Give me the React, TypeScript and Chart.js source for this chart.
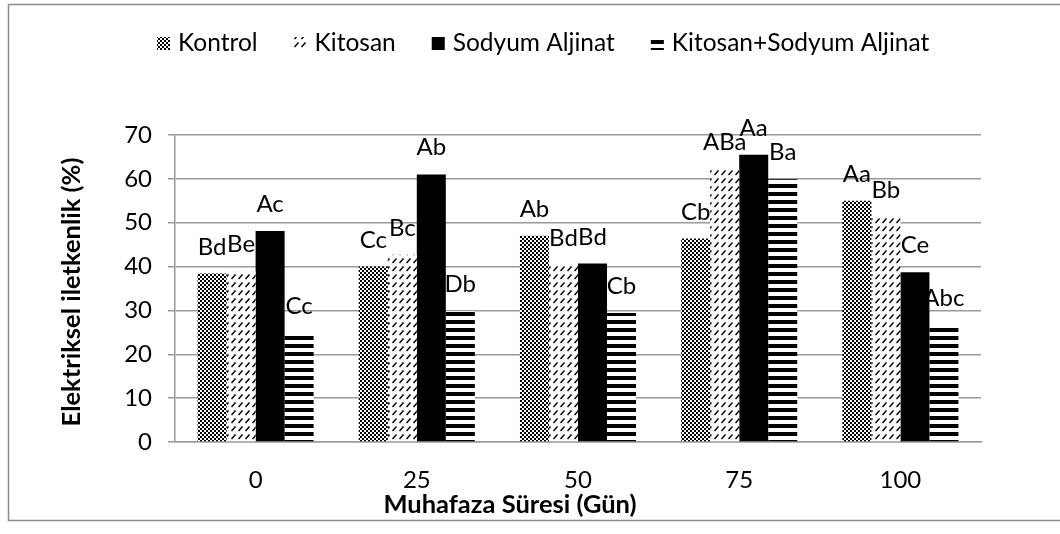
import React, { useEffect, useRef } from "react";
import { Chart, registerables } from "chart.js";

Chart.register(...registerables);

const categories = ["0", "25", "50", "75", "100"];
const seriesNames = ["Kontrol", "Kitosan", "Sodyum Aljinat", "Kitosan+Sodyum Aljinat"];

const kontrolValues = [38.4, 40.0, 47.0, 46.4, 55.0];
const kitosanValues = [38.9, 42.7, 40.4, 62.2, 51.3];
const sodyumValues = [48.1, 61.0, 40.7, 65.5, 38.7];
const kitosanSodyumValues = [24.8, 29.8, 29.4, 59.9, 26.6];

const kontrolLetters = ["Bd", "Cc", "Ab", "Cb", "Aa"];
const kitosanLetters = ["Be", "Bc", "Bd", "ABa", "Bb"];
const sodyumLetters = ["Ac", "Ab", "Bd", "Aa", "Ce"];
const kitosanSodyumLetters = ["Cc", "Db", "Cb", "Ba", "Abc"];

const yMin = 0;
const yMax = 70;
const yStep = 10;

const xTitle = "Muhafaza Süresi (Gün)";
const yTitle = "Elektriksel iletkenlik (%)";

const FONT = "Lato, 'Open Sans', sans-serif";
const GRID = "#9a9a9a";

function makePattern(w: number, h: number, draw: (g: CanvasRenderingContext2D) => void): CanvasPattern | string {
  const c = document.createElement("canvas");
  c.width = w;
  c.height = h;
  const g = c.getContext("2d");
  if (!g) return "#000";
  g.fillStyle = "#fff";
  g.fillRect(0, 0, w, h);
  draw(g);
  const p = g.createPattern(c, "repeat");
  return p || "#000";
}

export default function App() {
  const ref = useRef<HTMLCanvasElement | null>(null);

  useEffect(() => {
    const canvas = ref.current;
    if (!canvas) return;

    const checker = makePattern(4, 4, (g) => {
      g.fillStyle = "#000";
      g.fillRect(0, 0, 2, 2);
      g.fillRect(2, 2, 2, 2);
    });
    const dashes = makePattern(7, 8, (g) => {
      g.strokeStyle = "#000";
      g.lineWidth = 1.5;
      g.beginPath();
      g.moveTo(0.5, 7);
      g.lineTo(4.5, 2.5);
      g.stroke();
    });
    const solid = "#000";
    const stripes = makePattern(8, 8, (g) => {
      g.fillStyle = "#000";
      g.fillRect(0, 0, 8, 4);
    });

    const letters = [kontrolLetters, kitosanLetters, sodyumLetters, kitosanSodyumLetters];

    const decor = {
      id: "decor",
      beforeDraw(chart: any) {
        const ctx = chart.ctx;
        ctx.save();
        ctx.fillStyle = "#fff";
        ctx.fillRect(0, 0, chart.width, chart.height);
        ctx.strokeStyle = "#8c8c8c";
        ctx.lineWidth = 1.5;
        ctx.beginPath();
        ctx.moveTo(chart.width + 10, 4.5);
        ctx.lineTo(8.5, 4.5);
        ctx.lineTo(8.5, 520.5);
        ctx.lineTo(chart.width + 10, 520.5);
        ctx.stroke();
        ctx.restore();
      },
      afterDatasetsDraw(chart: any) {
        const ctx = chart.ctx;
        ctx.save();
        ctx.fillStyle = "#000";
        ctx.font = `24px ${FONT}`;
        ctx.textAlign = "center";
        ctx.textBaseline = "alphabetic";
        chart.data.datasets.forEach((ds: any, di: number) => {
          const meta = chart.getDatasetMeta(di);
          meta.data.forEach((el: any, i: number) => {
            ctx.fillText(letters[di][i], el.x, el.y - 19);
          });
        });
        ctx.restore();
      },
      afterDraw(chart: any) {
        const ctx = chart.ctx;
        ctx.save();
        // legend
        ctx.font = `24.5px ${FONT}`;
        ctx.textBaseline = "alphabetic";
        ctx.textAlign = "left";
        const box = 13;
        const gapText = 8;
        const gapItem = 36;
        const ds = chart.data.datasets;
        const widths = ds.map((d: any) => box + gapText + ctx.measureText(d.label).width);
        const total = widths.reduce((a: number, b: number) => a + b, 0) + gapItem * (ds.length - 1);
        let x = Math.round(543.5 - total / 2);
        ds.forEach((d: any, i: number) => {
          ctx.fillStyle = d.backgroundColor;
          ctx.fillRect(x, 37, box, box);
          ctx.fillStyle = "#000";
          ctx.fillText(d.label, x + box + gapText, 51);
          x += widths[i] + gapItem;
        });
        // axis titles
        ctx.font = `bold 25.5px ${FONT}`;
        ctx.textAlign = "center";
        ctx.textBaseline = "alphabetic";
        ctx.fillText(xTitle, 510, 513);
        ctx.translate(80, 292);
        ctx.rotate(-Math.PI / 2);
        ctx.fillText(yTitle, 0, 0);
        ctx.restore();
      },
    };

    const chart = new Chart(canvas, {
      type: "bar",
      data: {
        labels: categories,
        datasets: [
          { label: seriesNames[0], data: kontrolValues, backgroundColor: checker as any },
          { label: seriesNames[1], data: kitosanValues, backgroundColor: dashes as any },
          { label: seriesNames[2], data: sodyumValues, backgroundColor: solid },
          { label: seriesNames[3], data: kitosanSodyumValues, backgroundColor: stripes as any },
        ],
      },
      options: {
        animation: false,
        responsive: false,
        devicePixelRatio: 1,
        layout: { padding: { left: 0, right: 79, top: 135, bottom: 0 } },
        datasets: { bar: { categoryPercentage: 0.72, barPercentage: 1, borderWidth: 0 } },
        plugins: {
          legend: { display: false },
          title: { display: false },
          tooltip: { enabled: false },
        },
        scales: {
          x: {
            grid: { display: false, drawTicks: false },
            border: { display: true, color: GRID, width: 1.5 },
            ticks: { color: "#000", font: { family: FONT, size: 24 }, padding: 24 },
            afterFit: (s: any) => {
              s.height = 92;
            },
          },
          y: {
            min: yMin,
            max: yMax,
            grid: { color: GRID, lineWidth: 1.5, drawTicks: true, tickLength: 7, tickColor: GRID },
            border: { display: true, color: GRID, width: 1.5 },
            ticks: { stepSize: yStep, color: "#000", font: { family: FONT, size: 24 }, padding: 16 },
            afterFit: (s: any) => {
              s.width = 175;
            },
          },
        },
      },
      plugins: [decor],
    });

    return () => chart.destroy();
  }, []);

  return (
    <div style={{ position: "absolute", left: 0, top: 0, width: 1060, height: 534, background: "#fff" }}>
      <canvas ref={ref} width={1060} height={534} style={{ display: "block", width: 1060, height: 534 }} />
    </div>
  );
}
